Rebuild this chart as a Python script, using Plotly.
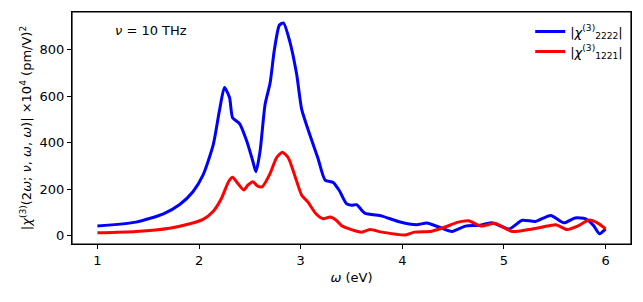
import plotly.graph_objects as go

omega_blue = [1.0, 1.38, 1.65, 1.81, 1.94, 2.04, 2.14, 2.20, 2.25, 2.30, 2.33, 2.40, 2.47, 2.53, 2.56,
              2.60, 2.65, 2.70, 2.74, 2.79, 2.83, 2.89, 2.96, 3.01, 3.09, 3.17, 3.24, 3.32, 3.38,
              3.45, 3.50, 3.55, 3.63, 3.80, 3.96, 4.14, 4.24, 4.36, 4.49, 4.62, 4.75, 4.88, 5.05,
              5.18, 5.31, 5.46, 5.59, 5.70, 5.80, 5.88, 5.94, 6.00]
chi_2222 = [42, 59, 95, 135, 190, 262, 392, 537, 638, 595, 508, 482, 407, 320, 276,
            363, 566, 660, 797, 906, 916, 841, 696, 544, 435, 334, 240, 230, 195,
            139, 132, 134, 98, 85, 62, 48, 55, 38, 19, 42, 45, 56, 30,
            67, 62, 88, 56, 77, 74, 45, 9, 30]

omega_red = [1.0, 1.38, 1.71, 1.91, 2.04, 2.14, 2.22, 2.29, 2.33, 2.38, 2.44, 2.48, 2.53, 2.57,
             2.62, 2.70, 2.76, 2.82, 2.88, 2.94, 3.01, 3.07, 3.15, 3.22, 3.29, 3.35, 3.40, 3.50,
             3.60, 3.68, 3.80, 4.03, 4.12, 4.29, 4.42, 4.55, 4.65, 4.78, 4.91, 5.08, 5.24, 5.38,
             5.51, 5.62, 5.72, 5.84, 5.92, 6.00]
chi_1221 = [13, 19, 33, 52, 71, 106, 161, 233, 252, 226, 197, 218, 233, 216,
            211, 269, 334, 360, 334, 262, 175, 146, 95, 74, 81, 67, 45, 27,
            16, 27, 16, 4, 16, 20, 38, 59, 65, 42, 54, 19, 27, 38,
            48, 27, 41, 68, 56, 30]

x_ticks = [1, 2, 3, 4, 5, 6]
y_ticks = [0, 200, 400, 600, 800]

FONT = "DejaVu Sans"
FS = 13

fig = go.Figure()
fig.add_trace(go.Scatter(x=omega_blue, y=chi_2222, mode="lines",
                         line=dict(color="#0000ff", width=3, shape="spline", smoothing=0.6),
                         name="|<i>χ</i><sup>(3)</sup><sub>2222</sub>|"))
fig.add_trace(go.Scatter(x=omega_red, y=chi_1221, mode="lines",
                         line=dict(color="#ff0000", width=3, shape="spline", smoothing=0.6),
                         name="|<i>χ</i><sup>(3)</sup><sub>1221</sub>|"))

axis_common = dict(showline=True, linecolor="black", linewidth=1.2, mirror=True,
                   ticks="outside", ticklen=4, tickwidth=1, tickcolor="black",
                   showgrid=False, zeroline=False, automargin=False,
                   tickfont=dict(family=FONT, size=FS, color="black"))

fig.update_layout(
    width=643, height=302,
    margin=dict(l=72, r=12, t=12, b=58, autoexpand=False),
    paper_bgcolor="white", plot_bgcolor="white",
    font=dict(family=FONT, size=FS, color="black"),
    xaxis=dict(range=[0.75, 6.25], tickvals=x_ticks,
               title=dict(text="<i>ω</i> (eV)", font=dict(family=FONT, size=FS), standoff=6),
               **axis_common),
    yaxis=dict(range=[-35, 963], tickvals=y_ticks,
               title=dict(text="|<i>χ</i><sup>(3)</sup>(2<i>ω</i>; <i>ν</i>, <i>ω</i>, <i>ω</i>)| ×10<sup>4</sup> (pm/V)<sup>2</sup>",
                          font=dict(family=FONT, size=FS), standoff=4),
               **axis_common),
    legend=dict(x=0.995, y=0.98, xanchor="right", yanchor="top",
                bgcolor="rgba(255,255,255,0)", borderwidth=0, tracegroupgap=4,
                font=dict(family=FONT, size=FS), itemwidth=30),
    showlegend=True,
)

fig.add_shape(type="rect", xref="paper", yref="paper", x0=0, y0=0, x1=1, y1=1,
              line=dict(color="black", width=1.2), fillcolor="rgba(0,0,0,0)", layer="above")

fig.add_annotation(xref="paper", yref="paper", x=0.073, y=0.92, xanchor="left", yanchor="middle",
                   text="<i>ν</i> = 10 THz", showarrow=False,
                   font=dict(family=FONT, size=FS, color="black"))

fig.write_html("out.html", config={"displayModeBar": False},
               post_script="document.body.style.margin='0';document.body.style.overflow='hidden';")
